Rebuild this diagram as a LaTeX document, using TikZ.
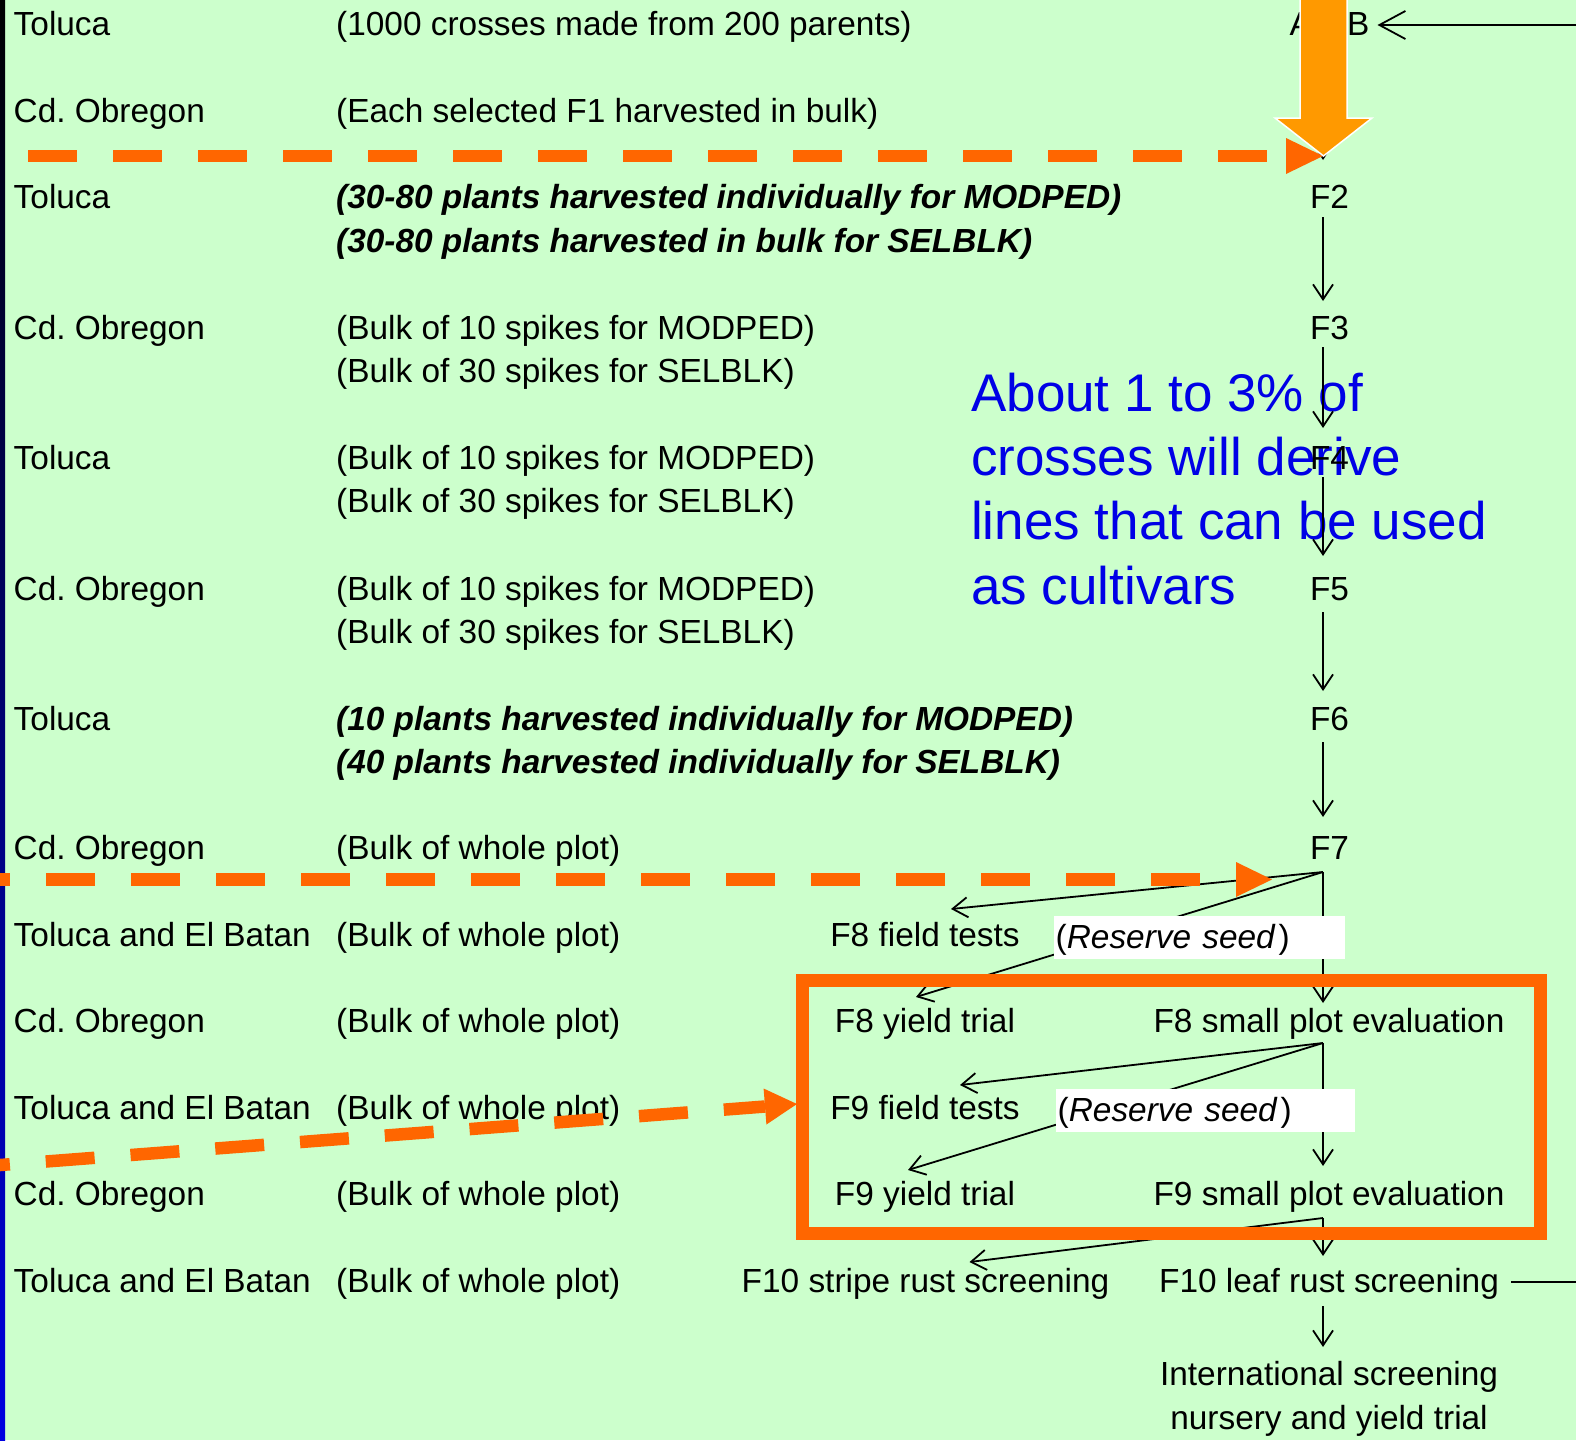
\documentclass[tikz,border=0pt]{standalone}
\usepackage{fontspec}
\setmainfont{Liberation Sans}
\usetikzlibrary{arrows.meta,calc}
\definecolor{bggreen}{RGB}{204,255,204}
\definecolor{dashorange}{RGB}{255,102,0}
\definecolor{bigorange}{RGB}{255,153,0}
\definecolor{noteblue}{RGB}{0,0,230}
\definecolor{stripeblue}{RGB}{0,0,225}
\frenchspacing
\begin{document}
\begin{tikzpicture}[x=1pt,y=-1pt,
  lbl/.style={anchor=base west, inner sep=0pt, font=\fontsize{33.4}{44}\selectfont},
  bilbl/.style={anchor=base west, inner sep=0pt, font=\fontsize{33.4}{44}\selectfont\bfseries\itshape},
  ctr/.style={anchor=base, inner sep=0pt, font=\fontsize{33.4}{44}\selectfont},
  note/.style={anchor=base west, inner sep=0pt, text=noteblue, font=\fontsize{53}{64}\selectfont},
  arr/.style={draw=black, line width=1.8pt, -{Straight Barb[length=15pt,width=20pt]}},
  bigarr/.style={draw=black, line width=1.8pt, -{Straight Barb[length=26pt,width=28pt]}},
  plain/.style={draw=black, line width=1.8pt},
  reserve/.style={fill=white, anchor=north west, inner xsep=1.5pt, inner ysep=0pt,
    text height=32pt, text depth=11pt, align=left, font=\fontsize{33.4}{44}\selectfont},
  orangedash/.style={draw=dashorange, line width=12.5pt, dash pattern=on 49pt off 36pt},
  orangebox/.style={draw=dashorange, line width=13pt},
]
\useasboundingbox (0,0) rectangle (1576,1440);
\clip (0,0) rectangle (1576,1440);
\fill[bggreen] (0,0) rectangle (1576,1440);
\shade[top color=black, bottom color=stripeblue] (0,0) rectangle (5,1440);

% blue note
\node[note] (n1) at (971,411) {About 1 to 3\% of};
\node[note] (n2) at (971,475.3) {crosses will derive};
\node[note] (n3) at (971,539.6) {lines that can be used};
\node[note] (n4) at (971,604) {as cultivars};

% left column
\node[lbl] (l1) at (13.5,35) {Toluca};
\node[lbl] (l2) at (13.5,122) {Cd. Obregon};
\node[lbl] (l3) at (13.5,208) {Toluca};
\node[lbl] (l4) at (13.5,339) {Cd. Obregon};
\node[lbl] (l5) at (13.5,469) {Toluca};
\node[lbl] (l6) at (13.5,600) {Cd. Obregon};
\node[lbl] (l7) at (13.5,730) {Toluca};
\node[lbl] (l8) at (13.5,859) {Cd. Obregon};
\node[lbl] (l9) at (13.5,946) {Toluca and El Batan};
\node[lbl] (l10) at (13.5,1032) {Cd. Obregon};
\node[lbl] (l11) at (13.5,1119) {Toluca and El Batan};
\node[lbl] (l12) at (13.5,1205) {Cd. Obregon};
\node[lbl] (l13) at (13.5,1292) {Toluca and El Batan};

% middle column
\node[lbl] (c1) at (336,35) {(1000 crosses made from 200 parents)};
\node[lbl] (c2) at (336,122) {(Each selected F1 harvested in bulk)};
\node[bilbl] (c3a) at (336,208) {(30-80 plants harvested individually for MODPED)};
\node[bilbl] (c3b) at (336,252) {(30-80 plants harvested in bulk for SELBLK)};
\node[lbl] (c4a) at (336,339) {(Bulk of 10 spikes for MODPED)};
\node[lbl] (c4b) at (336,382) {(Bulk of 30 spikes for SELBLK)};
\node[lbl] (c5a) at (336,469) {(Bulk of 10 spikes for MODPED)};
\node[lbl] (c5b) at (336,512) {(Bulk of 30 spikes for SELBLK)};
\node[lbl] (c6a) at (336,600) {(Bulk of 10 spikes for MODPED)};
\node[lbl] (c6b) at (336,643) {(Bulk of 30 spikes for SELBLK)};
\node[bilbl] (c7a) at (336,730) {(10 plants harvested individually for MODPED)};
\node[bilbl] (c7b) at (336,773) {(40 plants harvested individually for SELBLK)};
\node[lbl] (c8) at (336,859) {(Bulk of whole plot)};
\node[lbl] (c9) at (336,946) {(Bulk of whole plot)};
\node[lbl] (c10) at (336,1032) {(Bulk of whole plot)};
\node[lbl] (c11) at (336,1119) {(Bulk of whole plot)};
\node[lbl] (c12) at (336,1205) {(Bulk of whole plot)};
\node[lbl] (c13) at (336,1292) {(Bulk of whole plot)};

% generation column
\node[ctr] (AB) at (1329.5,35) {A x B};
\node[ctr] (F2) at (1329.5,208) {F2};
\node[ctr] (F3) at (1329.5,339) {F3};
\node[ctr] (F4) at (1329.5,469) {F4};
\node[ctr] (F5) at (1329.5,600) {F5};
\node[ctr] (F6) at (1329.5,730) {F6};
\node[ctr] (F7) at (1329.5,859) {F7};
\node[ctr] (F8field) at (925,946) {F8 field tests};
\node[ctr] (F8yield) at (925,1032) {F8 yield trial};
\node[ctr] (F8small) at (1329,1032) {F8 small plot evaluation};
\node[ctr] (F9field) at (925,1119) {F9 field tests};
\node[ctr] (F9yield) at (925,1205) {F9 yield trial};
\node[ctr] (F9small) at (1329,1205) {F9 small plot evaluation};
\node[ctr] (F10stripe) at (925.5,1292) {F10 stripe rust screening};
\node[ctr] (F10leaf) at (1329,1292) {F10 leaf rust screening};
\node[ctr] (Intl1) at (1329,1385) {International screening};
\node[ctr] (Intl2) at (1329,1429) {nursery and yield trial};

% connectors
\coordinate (fbtop) at (1576,25);
\coordinate (fbbot) at (1576,1282);
\draw[bigarr] (fbtop) -- ($(AB.base)+(48,-10)$);
\draw[arr] ($(AB.base)+(-6.5,10)$) -- ($(F2.base)+(-6.5,-48)$);
\draw[arr] ($(F2.base)+(-6.5,9)$) -- ($(F3.base)+(-6.5,-38)$);
\draw[arr] ($(F3.base)+(-6.5,8)$) -- ($(F4.base)+(-6.5,-41)$);
\draw[arr] ($(F4.base)+(-6.5,8)$) -- ($(F5.base)+(-6.5,-44)$);
\draw[arr] ($(F5.base)+(-6.5,12)$) -- ($(F6.base)+(-6.5,-39)$);
\draw[arr] ($(F6.base)+(-6.5,12)$) -- ($(F7.base)+(-6.5,-42)$);

\coordinate (j7) at ($(F7.base)+(-6.5,13)$);
\draw[arr] (j7) -- ($(F8field.base)+(26,-37)$);
\draw[arr] (j7) -- ($(F8yield.base)+(-9,-35)$);
\draw[arr] (j7) -- ($(F8small.base)+(-6,-29)$);

\coordinate (j8) at ($(F8small.base)+(-6,11)$);
\draw[arr] (j8) -- ($(F9field.base)+(35,-34)$);
\draw[arr] (j8) -- ($(F9yield.base)+(-17,-35)$);
\draw[arr] (j8) -- ($(F9small.base)+(-6,-39)$);

\coordinate (j9) at ($(F9small.base)+(-6,13)$);
\draw[arr] (j9) -- ($(F10stripe.base)+(44,-30)$);
\draw[arr] (j9) -- ($(F10leaf.base)+(-6,-36)$);

\draw[arr] ($(F10leaf.base)+(-6,14)$) -- ($(Intl1.base)+(-6,-38)$);
\draw[plain] ($(F10leaf.base east)+(12,-10)$) -- (fbbot);

% reserve seed boxes
\node[reserve, text width=288pt] (rs1) at (1054,916) {(\textit{Reserve seed}\kern3pt)};
\node[reserve, text width=296pt] (rs2) at (1056,1089) {(\textit{Reserve seed}\kern3pt)};

% orange annotations
\coordinate (d1s) at (28,156);
\coordinate (d1e) at (1286,156);
\coordinate (d1t) at (1323,156);
\draw[orangedash] (d1s) -- (d1e);
\fill[dashorange] (d1t) -- ($(d1e)+(0,-18)$) -- ($(d1e)+(0,18)$) -- cycle;

\coordinate (d2s) at (-39,879.5);
\coordinate (d2e) at (1236,879.5);
\coordinate (d2t) at (1272,879.5);
\draw[orangedash] (d2s) -- (d2e);
\fill[dashorange] (d2t) -- ($(d2e)+(0,-17.5)$) -- ($(d2e)+(0,17.5)$) -- cycle;

\coordinate (d3s) at (-39,1168);
\coordinate (d3e) at (765,1106.5);
\coordinate (d3t) at (797,1104);
\draw[orangedash] (d3s) -- (d3e);
\fill[dashorange] (d3t) -- ($(d3e)+(-1.4,-18)$) -- ($(d3e)+(1.4,18)$) -- cycle;

\draw[orangebox] (802,980) rectangle (1540,1233);

\fill[bigorange, draw=white, line width=1.5pt]
  (1300,-5) -- (1300,118) -- (1275,118) -- (1323.5,156) -- (1372,118) -- (1347,118) -- (1347,-5) -- cycle;
\end{tikzpicture}
\end{document}
